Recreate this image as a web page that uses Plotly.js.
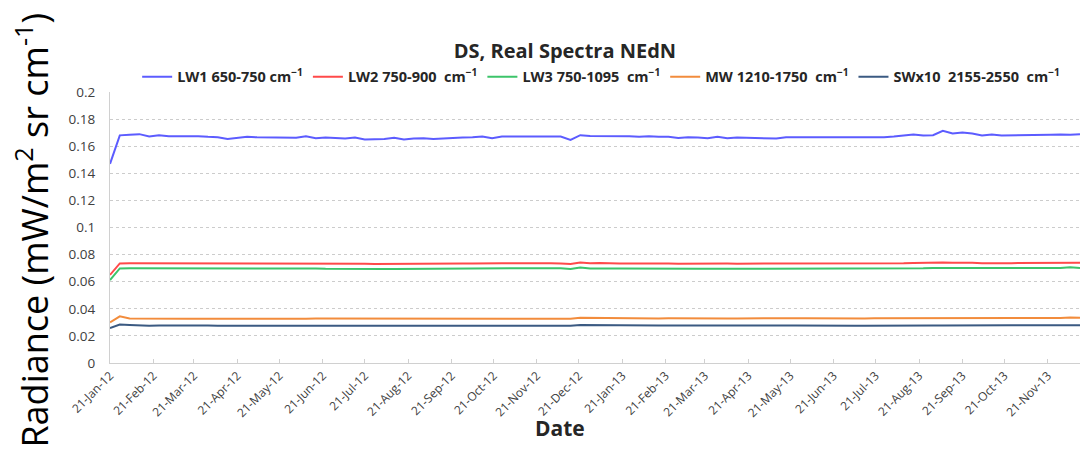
<!DOCTYPE html>
<html>
<head>
<meta charset="utf-8">
<script src="https://cdn.plot.ly/plotly-3.0.1.min.js"></script>
<style>html,body{margin:0;padding:0;background:#fff;}#chart{width:1080px;height:462px;}</style>
</head>
<body>
<div id="chart"></div>
<script>
// Weekly samples starting 21-Jan-2012
const startDate = '2012-01-21';
const stepDays = 7;

const seriesNames = [
  '<b>LW1 650-750 cm<sup>\u22121</sup></b>',
  '<b>LW2 750-900  cm<sup>\u22121</sup></b>',
  '<b>LW3 750-1095  cm<sup>\u22121</sup></b>',
  '<b>MW 1210-1750  cm<sup>\u22121</sup></b>',
  '<b>SWx10  2155-2550  cm<sup>\u22121</sup></b>'
];

const lw1 = [
  0.1470,0.1680,0.1684,0.1689,0.1671,0.1681,0.1674,0.1674,0.1676,0.1674,
  0.1669,0.1666,0.1654,0.1662,0.1669,0.1666,0.1664,0.1662,0.1662,0.1662,
  0.1674,0.1659,0.1664,0.1662,0.1657,0.1664,0.1649,0.1652,0.1654,0.1662,
  0.1649,0.1657,0.1659,0.1654,0.1659,0.1664,0.1664,0.1666,0.1671,0.1659,
  0.1671,0.1671,0.1671,0.1676,0.1674,0.1674,0.1671,0.1647,0.1681,0.1676,
  0.1676,0.1679,0.1674,0.1674,0.1669,0.1674,0.1669,0.1669,0.1661,0.1666,
  0.1664,0.1659,0.1669,0.1659,0.1664,0.1661,0.1661,0.1659,0.1656,0.1666,
  0.1666,0.1666,0.1666,0.1666,0.1666,0.1666,0.1661,0.1666,0.1661,0.1666,
  0.1671,0.1679,0.1686,0.1679,0.1681,0.1714,0.1694,0.1701,0.1694,0.1679,
  0.1686,0.1679,0.1679,0.1681,0.1684,0.1681,0.1684,0.1686,0.1684,0.1689
];
const lw2 = [
  0.0650,0.0735,0.0736,0.0736,0.0737,0.0735,0.0734,0.0736,0.0733,0.0735,
  0.0734,0.0733,0.0732,0.0733,0.0733,0.0732,0.0733,0.0732,0.0733,0.0733,
  0.0736,0.0735,0.0734,0.0733,0.0732,0.0733,0.0733,0.0731,0.0732,0.0732,
  0.0733,0.0731,0.0732,0.0733,0.0734,0.0734,0.0735,0.0735,0.0734,0.0735,
  0.0736,0.0737,0.0738,0.0738,0.0737,0.0737,0.0735,0.0731,0.0742,0.0737,
  0.0738,0.0734,0.0735,0.0734,0.0735,0.0734,0.0733,0.0734,0.0733,0.0734,
  0.0734,0.0733,0.0734,0.0734,0.0733,0.0733,0.0734,0.0734,0.0734,0.0734,
  0.0735,0.0735,0.0734,0.0734,0.0733,0.0734,0.0732,0.0733,0.0734,0.0735,
  0.0735,0.0736,0.0738,0.0741,0.0739,0.0742,0.0740,0.0741,0.0740,0.0737,
  0.0739,0.0737,0.0737,0.0738,0.0738,0.0738,0.0739,0.0740,0.0741,0.0740
];
const lw3 = [
  0.0612,0.0698,0.0699,0.0699,0.0700,0.0701,0.0700,0.0699,0.0698,0.0699,
  0.0696,0.0697,0.0696,0.0696,0.0696,0.0697,0.0697,0.0696,0.0696,0.0697,
  0.0696,0.0697,0.0695,0.0694,0.0694,0.0694,0.0696,0.0695,0.0694,0.0694,
  0.0694,0.0695,0.0694,0.0694,0.0696,0.0696,0.0697,0.0697,0.0697,0.0698,
  0.0697,0.0698,0.0699,0.0700,0.0701,0.0700,0.0699,0.0694,0.0705,0.0698,
  0.0696,0.0697,0.0698,0.0697,0.0696,0.0696,0.0696,0.0695,0.0695,0.0695,
  0.0695,0.0695,0.0695,0.0695,0.0695,0.0695,0.0695,0.0695,0.0695,0.0696,
  0.0696,0.0696,0.0695,0.0695,0.0695,0.0694,0.0694,0.0696,0.0697,0.0697,
  0.0698,0.0698,0.0697,0.0699,0.0701,0.0701,0.0702,0.0701,0.0701,0.0699,
  0.0699,0.0699,0.0699,0.0700,0.0700,0.0700,0.0700,0.0701,0.0706,0.0702
];
const mw = [
  0.0300,0.0344,0.0328,0.0327,0.0327,0.0328,0.0328,0.0327,0.0326,0.0327,
  0.0328,0.0326,0.0325,0.0327,0.0327,0.0327,0.0326,0.0326,0.0327,0.0327,
  0.0327,0.0328,0.0328,0.0327,0.0327,0.0327,0.0327,0.0327,0.0327,0.0326,
  0.0326,0.0328,0.0327,0.0327,0.0327,0.0328,0.0328,0.0329,0.0329,0.0329,
  0.0329,0.0329,0.0329,0.0329,0.0331,0.0331,0.0331,0.0326,0.0334,0.0333,
  0.0331,0.0331,0.0330,0.0330,0.0330,0.0330,0.0329,0.0330,0.0329,0.0330,
  0.0330,0.0330,0.0329,0.0329,0.0329,0.0330,0.0330,0.0330,0.0330,0.0330,
  0.0330,0.0330,0.0329,0.0329,0.0330,0.0330,0.0330,0.0329,0.0330,0.0330,
  0.0330,0.0329,0.0329,0.0331,0.0331,0.0331,0.0332,0.0332,0.0331,0.0331,
  0.0331,0.0331,0.0332,0.0332,0.0332,0.0332,0.0332,0.0333,0.0335,0.0334
];
const swx10 = [
  0.0257,0.0284,0.0280,0.0276,0.0275,0.0276,0.0277,0.0277,0.0275,0.0276,
  0.0276,0.0275,0.0274,0.0274,0.0273,0.0273,0.0274,0.0274,0.0274,0.0274,
  0.0275,0.0275,0.0274,0.0274,0.0274,0.0274,0.0274,0.0274,0.0274,0.0274,
  0.0274,0.0274,0.0274,0.0274,0.0274,0.0275,0.0275,0.0275,0.0275,0.0275,
  0.0276,0.0276,0.0276,0.0276,0.0278,0.0278,0.0278,0.0274,0.0280,0.0279,
  0.0278,0.0278,0.0278,0.0276,0.0276,0.0277,0.0277,0.0277,0.0276,0.0276,
  0.0277,0.0277,0.0277,0.0277,0.0276,0.0276,0.0276,0.0277,0.0277,0.0276,
  0.0276,0.0275,0.0275,0.0276,0.0276,0.0275,0.0275,0.0275,0.0276,0.0277,
  0.0277,0.0277,0.0276,0.0276,0.0277,0.0277,0.0278,0.0278,0.0278,0.0278,
  0.0279,0.0279,0.0279,0.0278,0.0278,0.0278,0.0279,0.0279,0.0279,0.0279
];

const seriesValues = [lw1, lw2, lw3, mw, swx10];
const seriesColors = ['#5c5cff', '#ff4a4a', '#3cc46a', '#f28c3c', '#3b5a82'];

const yTickVals = [0, 0.02, 0.04, 0.06, 0.08, 0.1, 0.12, 0.14, 0.16, 0.18, 0.2];
const yTickText = ['0', '0.02', '0.04', '0.06', '0.08', '0.1', '0.12', '0.14', '0.16', '0.18', '0.2'];

function makeDates(n) {
  const out = [];
  const t0 = Date.parse(startDate + 'T00:00:00Z');
  for (let i = 0; i < n; i++) {
    const d = new Date(t0 + i * stepDays * 86400000);
    out.push(d.toISOString().slice(0, 10));
  }
  return out;
}
const dates = makeDates(lw1.length);

const FONT = 'Open Sans, Noto Sans, sans-serif';
const traces = seriesValues.map((vals, k) => ({
  type: 'scatter', mode: 'lines',
  x: dates, y: vals, name: seriesNames[k],
  line: {color: seriesColors[k], width: 2}
}));

const layout = {
  width: 1080, height: 462,
  margin: {l: 110, r: 0, t: 92, b: 99},
  paper_bgcolor: '#ffffff', plot_bgcolor: '#ffffff',
  font: {family: FONT, color: '#404040'},
  title: {
    text: '<b>DS, Real Spectra NEdN</b>',
    font: {family: FONT, size: 20, color: '#262626'},
    xref: 'paper', x: 0.469, xanchor: 'center',
    yref: 'container', y: 0.89, yanchor: 'middle'
  },
  showlegend: true,
  legend: {
    orientation: 'h', x: 0.028, xanchor: 'left', y: 1.056, yanchor: 'middle',
    font: {family: FONT, size: 14.5, color: '#262626'},
    itemwidth: 30, bgcolor: 'rgba(0,0,0,0)', traceorder: 'normal'
  },
  xaxis: {
    type: 'date',
    range: ['2012-01-21', '2013-12-14'],
    tick0: '2012-01-21', dtick: 'M1',
    tickformat: '%d-%b-%y', tickangle: -45,
    tickfont: {family: FONT, size: 12, color: '#404040'},
    ticks: 'inside', ticklen: 4, tickcolor: '#d0d0d0',
    showgrid: false, zeroline: false,
    showline: true, linecolor: '#d0d0d0', linewidth: 1
  },
  yaxis: {
    range: [0, 0.2],
    tickvals: yTickVals, ticktext: yTickText,
    tickfont: {family: FONT, size: 13.5, color: '#404040'},
    ticks: '', ticklabelstandoff: 11,
    showgrid: true, gridcolor: '#cccccc', griddash: 'dot', gridwidth: 1,
    zeroline: false,
    showline: true, linecolor: '#d0d0d0', linewidth: 1
  },
  annotations: [
    {
      text: '<b>Date</b>', xref: 'paper', yref: 'paper',
      x: 0.464, y: -0.24, xanchor: 'center', yanchor: 'middle',
      showarrow: false, font: {family: FONT, size: 21, color: '#262626'}
    },
    {
      text: 'Radiance (mW/m<sup>2</sup> sr cm<sup>-1</sup>)',
      xref: 'paper', yref: 'paper',
      x: -0.08, y: 0.49, xanchor: 'center', yanchor: 'middle',
      textangle: -90, showarrow: false,
      font: {family: FONT, size: 36, color: '#000000'}
    }
  ]
};

Plotly.newPlot('chart', traces, layout, {staticPlot: true, displayModeBar: false});
</script>
</body>
</html>
